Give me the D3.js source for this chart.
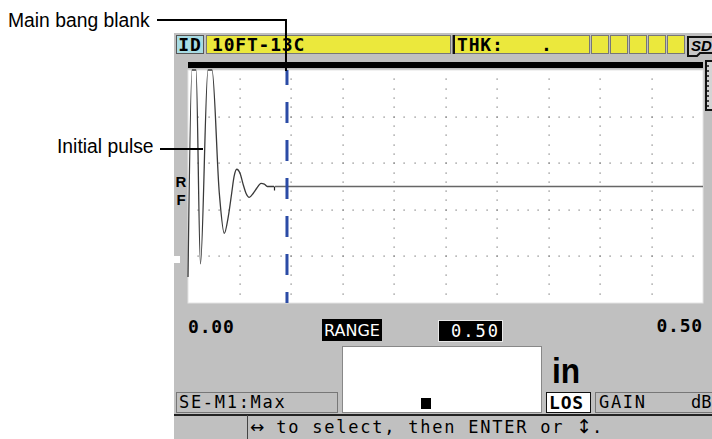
<!DOCTYPE html>
<html><head><meta charset="utf-8">
<script src="https://cdn.jsdelivr.net/npm/d3@7"></script>
<style>body{margin:0;background:#fff;} svg{display:block;}</style>
</head><body><svg id="c" width="712" height="439"></svg>
<script>
// ---- data ----
const rangeIn = [0, 0.50];            // horizontal range (in)
const ampDomain = [-100, 100];        // RF amplitude (%)
const waveT = [0.0000, 0.0039, 0.0078, 0.0121, 0.0194, 0.0233, 0.0304, 0.0352, 0.0391, 0.0424, 0.0447, 0.0473, 0.0505, 0.0537, 0.0563, 0.0595, 0.0634, 0.0667, 0.0709, 0.0741, 0.0770, 0.0835];
const waveA = [-77.7, 100, 100, -66.5, 100, 100, -5.8, -40.2, -25.9, -5.8, 8.4, 14.8, 11.3, 1.3, -5.8, -9.3, -5.8, -1.5, 2.7, 2.1, 0, 0];
const baselineStart = 0.0845;
const blankT = 0.0961;                // main bang blank position (in)
const axisLabels = ["0.00", "0.50"];
const majorXDiv = 10, majorYDiv = 5, minorPerDiv = 5;
const statusId = "ID", statusName = "10FT-13C", statusThk = "THK:";
const rangeLabel = "RANGE", rangeValue = "0.50", unitLabel = "in";
const modeLabel = "SE-M1:Max", losLabel = "LOS", gainLabel = "GAIN", gainUnit = "dB";
const helpParts = ["\u2194", " to select, then ENTER or ", "\u2195", "."];
const annotations = ["Main bang blank", "Initial pulse"];

// ---- layout ----
const svg = d3.select("#c");
const P = {l:188, r:703, t:70, b:303};
const x = d3.scaleLinear().domain(rangeIn).range([P.l, P.r]);
const y = d3.scaleLinear().domain(ampDomain).range([P.b, P.t]);
const mono = "'DejaVu Sans Mono', monospace";
const sans = "'Liberation Sans', Arial, sans-serif";
const grey = "#c0c0c0";

// screen background
svg.append("rect").attr("x",174).attr("y",33).attr("width",538).attr("height",406).attr("fill",grey);

// status bar
const sb = svg.append("g");
sb.append("rect").attr("x",176.5).attr("y",35.5).attr("width",27).attr("height",18).attr("fill","#a8dce4").attr("stroke","#555");
sb.append("text").attr("x",190).attr("y",51).attr("text-anchor","middle").attr("font-family",mono).attr("font-weight","bold").attr("font-size",18).attr("letter-spacing",0.8).text(statusId);
sb.append("rect").attr("x",206.5).attr("y",35.5).attr("width",244).attr("height",18).attr("fill","#ebe83c").attr("stroke","#777");
sb.append("text").attr("x",212).attr("y",51).attr("font-family",mono).attr("font-weight","bold").attr("font-size",18).attr("letter-spacing",0.8).text(statusName);
sb.append("rect").attr("x",452.5).attr("y",35.5).attr("width",137).attr("height",18).attr("fill","#ebe83c").attr("stroke","#777");
sb.append("line").attr("x1",454).attr("x2",454).attr("y1",35).attr("y2",54).attr("stroke","#111").attr("stroke-width",2);
sb.append("text").attr("x",457).attr("y",51).attr("font-family",mono).attr("font-weight","bold").attr("font-size",18).attr("letter-spacing",0.8).text(statusThk);
sb.append("text").attr("x",541).attr("y",51).attr("font-family",mono).attr("font-weight","bold").attr("font-size",18).text(".");
[591,610,629,648,667].forEach(bx=>{
  sb.append("rect").attr("x",bx+0.5).attr("y",35.5).attr("width",17).attr("height",18).attr("fill","#ebe83c").attr("stroke","#777");
});
// SD card icon
sb.append("path").attr("d","M688,37 H716 V53 H700 L697,56 H688 Z").attr("fill","#c8c8c8").attr("stroke","#111").attr("stroke-width",2);
sb.append("text").attr("x",691).attr("y",51).attr("font-family",sans).attr("font-weight","bold").attr("font-style","italic").attr("font-size",15).text("SD");

// black bar
svg.append("rect").attr("x",P.l).attr("y",62).attr("width",P.r-P.l).attr("height",6).attr("fill","#000");

// right gauge
const gg = svg.append("g");
gg.append("rect").attr("x",706).attr("y",61).attr("width",10).attr("height",49).attr("fill","#d4d4d4").attr("stroke","#111").attr("stroke-width",2);
d3.range(66,108,5).forEach(ty=>gg.append("line").attr("x1",706).attr("x2",709).attr("y1",ty).attr("y2",ty).attr("stroke","#111").attr("stroke-width",1.5));

// plot area
svg.append("rect").attr("x",P.l).attr("y",P.t).attr("width",P.r-P.l).attr("height",P.b-P.t).attr("fill","#fff").attr("stroke","#e4e4e4");

// grid dots
const grid = svg.append("g").attr("fill","#777");
const stepX = (rangeIn[1]-rangeIn[0])/majorXDiv, stepY = (ampDomain[1]-ampDomain[0])/majorYDiv;
const majX = d3.range(1,majorXDiv).map(i=>rangeIn[0]+i*stepX);
const majY = d3.range(1,majorYDiv).map(i=>ampDomain[0]+i*stepY);
const minX = d3.range(1,majorXDiv*minorPerDiv).map(i=>rangeIn[0]+i*stepX/minorPerDiv);
const minY = d3.range(1,majorYDiv*minorPerDiv).map(i=>ampDomain[0]+i*stepY/minorPerDiv);
majX.forEach(t=>minY.forEach(a=>grid.append("rect").attr("x",Math.round(x(t))-0.5).attr("y",Math.round(y(a))-0.5).attr("width",1.2).attr("height",1.2)));
majY.forEach(a=>minX.forEach(t=>grid.append("rect").attr("x",Math.round(x(t))-0.5).attr("y",Math.round(y(a))-0.5).attr("width",1.2).attr("height",1.2)));

// baseline
svg.append("line").attr("x1",x(baselineStart)).attr("x2",x(rangeIn[1])).attr("y1",y(0)).attr("y2",y(0)).attr("stroke","#666").attr("stroke-width",1.6);

// waveform
const wave = waveT.map((t,i)=>[t,waveA[i]]);
svg.append("path").datum(wave)
  .attr("d", d3.line().x(d=>x(d[0])).y(d=>y(d[1])).curve(d3.curveMonotoneX))
  .attr("fill","none").attr("stroke","#3a3a3a").attr("stroke-width",1.3);
svg.append("line").attr("x1",x(waveT[waveT.length-1])+0.5).attr("x2",x(waveT[waveT.length-1])+0.5).attr("y1",y(0)).attr("y2",y(0)+4).attr("stroke","#222").attr("stroke-width",1.2);

// main bang blank
svg.append("line").attr("x1",x(blankT)).attr("x2",x(blankT)).attr("y1",P.t).attr("y2",P.b)
  .attr("stroke","#2b4ba6").attr("stroke-width",3).attr("stroke-dasharray","21,17").attr("stroke-dashoffset",6);

// RF label and left marker
svg.append("text").attr("x",181).attr("y",187).attr("text-anchor","middle").attr("font-family",sans).attr("font-weight","bold").attr("font-size",15).text("R");
svg.append("text").attr("x",181).attr("y",205).attr("text-anchor","middle").attr("font-family",sans).attr("font-weight","bold").attr("font-size",15).text("F");
svg.append("rect").attr("x",174).attr("y",256).attr("width",6).attr("height",7).attr("fill","#fff");

// axis labels
svg.append("text").attr("x",P.l).attr("y",333).attr("font-family",mono).attr("font-weight","bold").attr("font-size",18).attr("letter-spacing",0.8).text(axisLabels[0]);
svg.append("text").attr("x",P.r).attr("y",332).attr("text-anchor","end").attr("font-family",mono).attr("font-weight","bold").attr("font-size",18).attr("letter-spacing",0.8).text(axisLabels[1]);

// RANGE
svg.append("rect").attr("x",322).attr("y",319).attr("width",60).attr("height",22).attr("fill","#000");
svg.append("text").attr("x",352).attr("y",336).attr("text-anchor","middle").attr("font-family","'DejaVu Sans', sans-serif").attr("font-size",16).attr("fill","#fff").text(rangeLabel);
svg.append("rect").attr("x",438.5).attr("y",320.5).attr("width",64).attr("height",21).attr("fill","#000").attr("stroke","#e8e8e8");
svg.append("text").attr("x",500).attr("y",337).attr("text-anchor","end").attr("font-family",mono).attr("font-size",17).attr("letter-spacing",2).attr("fill","#fff").text(rangeValue);

// readout box
svg.append("rect").attr("x",342.5).attr("y",346.5).attr("width",199).attr("height",66).attr("fill","#fff").attr("stroke","#888");
svg.append("rect").attr("x",421).attr("y",398).attr("width",10).attr("height",11).attr("fill","#000");
svg.append("text").attr("transform","translate(552,383) scale(0.88,1)").attr("font-family",sans).attr("font-weight","bold").attr("font-size",36).text(unitLabel);

// lower boxes
svg.append("rect").attr("x",176.5).attr("y",392.5).attr("width",161).attr("height",20).attr("fill",grey).attr("stroke","#777");
svg.append("text").attr("x",179).attr("y",408).attr("font-family",mono).attr("font-size",17).attr("letter-spacing",1.7).text(modeLabel);
svg.append("rect").attr("x",546.5).attr("y",392.5).attr("width",44).attr("height",20).attr("fill","#fff").attr("stroke","#111");
svg.append("text").attr("x",549).attr("y",409).attr("font-family",mono).attr("font-size",18).attr("font-weight","bold").attr("letter-spacing",0.8).text(losLabel);
svg.append("rect").attr("x",595.5).attr("y",392.5).attr("width",125).attr("height",20).attr("fill",grey).attr("stroke","#777");
svg.append("text").attr("x",599).attr("y",408).attr("font-family",mono).attr("font-size",17).attr("letter-spacing",1.7).text(gainLabel);
svg.append("text").attr("x",691).attr("y",408).attr("font-family",mono).attr("font-size",17).text(gainUnit);

// help line
svg.append("line").attr("x1",174).attr("x2",712).attr("y1",415).attr("y2",415).attr("stroke","#222").attr("stroke-width",2);
svg.append("line").attr("x1",247.5).attr("x2",247.5).attr("y1",415).attr("y2",439).attr("stroke","#444");
const help = svg.append("text").attr("x",250).attr("y",433).attr("font-family",mono).attr("font-size",17).attr("letter-spacing",1.76);
helpParts.forEach((p,i)=>{
  const ts = help.append("tspan").text(p);
  if (i===0) ts.attr("font-family","'DejaVu Sans', sans-serif").attr("font-size",17).attr("letter-spacing",0);
  if (i===2) ts.attr("font-family","'DejaVu Sans', sans-serif").attr("font-size",19).attr("letter-spacing",0);
});

// annotations
svg.append("text").attr("transform","translate(8,27) scale(0.92,1)").attr("font-family",sans).attr("font-size",21).text(annotations[0]);
svg.append("path").attr("d",`M157,20 H${x(blankT)-1} V71`).attr("fill","none").attr("stroke","#000").attr("stroke-width",2);
svg.append("text").attr("transform","translate(57,153) scale(0.92,1)").attr("font-family",sans).attr("font-size",21).text(annotations[1]);
svg.append("line").attr("x1",160).attr("x2",203).attr("y1",149).attr("y2",149).attr("stroke","#000").attr("stroke-width",2);
</script></body></html>
